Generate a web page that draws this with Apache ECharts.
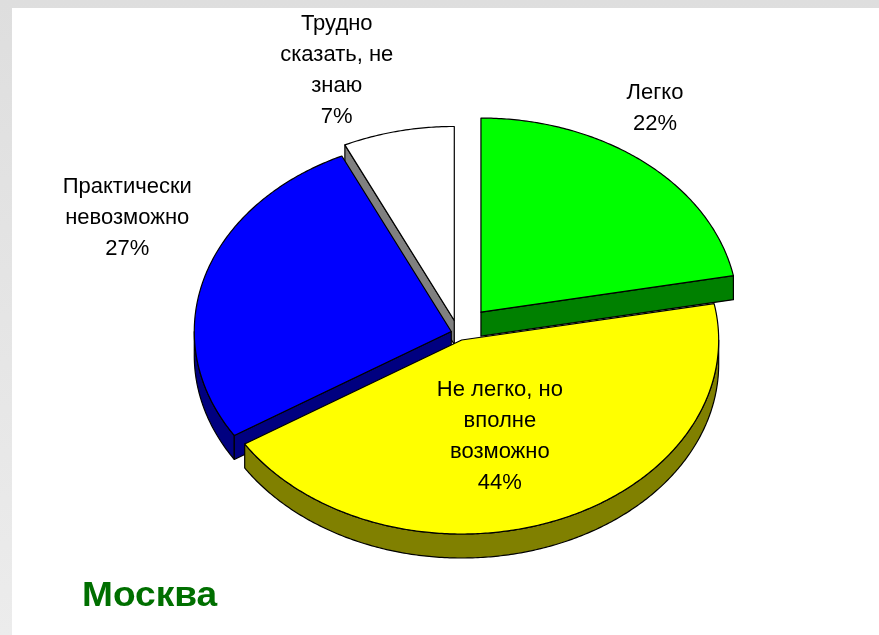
<!DOCTYPE html>
<html>
<head>
<meta charset="utf-8">
<script src="https://cdn.jsdelivr.net/npm/echarts@6/dist/echarts.min.js"></script>
<style>
    html, body { margin: 0; padding: 0; background: #e2e2e2; }
    #chart { width: 879px; height: 635px; }
</style>
</head>
<body>
<div id="chart"></div>
<script>
// данные
const categories = ['Легко', 'Не легко, но\nвполне\nвозможно', 'Практически\nневозможно', 'Трудно\nсказать, не\nзнаю']
const values = [22, 44, 27, 7]
const topColors = ['#00ff00', '#ffff00', '#0000ff', '#ffffff']
const sideColors = ['#008000', '#808000', '#000080', '#808080']

const chart = echarts.init(document.getElementById('chart'))

// геометрия "3D" пирога
const cx = 458, cy = 333
const rx = 257, ry = 194
const depth = 24
const explode = [36, 10, 7, 17]          // вынос каждого сектора, px
const labelR = [1.25, 0.52, 1.39, 1.37]  // радиус подписи (доля радиуса)
const labelShift = [-6.8, 5, 8.7, -6.9]  // сдвиг угла подписи, градусы

const total = values.reduce((a, b) => a + b, 0)
const starts = []
let acc = 0
values.forEach(v => { starts.push(acc / total * Math.PI * 2); acc += v })

function rim(v, t, dy) {
    return [v[0] + rx * Math.sin(t), v[1] - ry * Math.cos(t) + (dy || 0)]
}
function arc(v, t0, t1, dy) {
    const pts = []
    const n = Math.max(2, Math.ceil((t1 - t0) / 0.01))
    for (let i = 0; i <= n; i++) pts.push(rim(v, t0 + (t1 - t0) * i / n, dy))
    return pts
}

function renderItem(params, api) {
    const i = params.dataIndex
    const t0 = starts[i]
    const t1 = t0 + api.value(1) / total * Math.PI * 2
    const mid = (t0 + t1) / 2
    const v = [cx + explode[i] * Math.sin(mid), cy - explode[i] * ry / rx * Math.cos(mid)]
    const order = Math.round((1 - Math.cos(mid)) * 10) * 10
    const line = { stroke: '#000', lineWidth: 1.2, lineJoin: 'round' }
    const children = []

    // внешняя боковая стенка (видна только снизу)
    const a0 = Math.max(t0, Math.PI / 2), a1 = Math.min(t1, Math.PI * 1.5)
    if (a1 > a0) {
        const pts = arc(v, a0, a1, 0).concat(arc(v, a0, a1, depth).reverse())
        children.push({ type: 'polygon', z2: order, shape: { points: pts },
            style: Object.assign({ fill: sideColors[i] }, line) })
    }
    // срезы
    if (Math.sin(t0) < -0.01) {
        const p = rim(v, t0)
        children.push({ type: 'polygon', z2: order + 1,
            shape: { points: [v, p, [p[0], p[1] + depth], [v[0], v[1] + depth]] },
            style: Object.assign({ fill: sideColors[i] }, line) })
    }
    if (Math.sin(t1) > 0.01) {
        const p = rim(v, t1)
        children.push({ type: 'polygon', z2: order + 1,
            shape: { points: [v, p, [p[0], p[1] + depth], [v[0], v[1] + depth]] },
            style: Object.assign({ fill: sideColors[i] }, line) })
    }
    // верхняя грань
    children.push({ type: 'polygon', z2: order + 2,
        shape: { points: [v].concat(arc(v, t0, t1, 0)) },
        style: Object.assign({ fill: topColors[i] }, line) })
    // подпись
    const la = mid + labelShift[i] * Math.PI / 180
    const lp = [v[0] + labelR[i] * rx * Math.sin(la), v[1] - labelR[i] * ry * Math.cos(la)]
    children.push({ type: 'text', z2: 500, x: lp[0], y: lp[1],
        style: {
            text: categories[i] + '\n' + api.value(1) + '%',
            fill: '#000', font: '22px "Liberation Sans", Arial, sans-serif',
            lineHeight: 31, align: 'center', verticalAlign: 'middle'
        } })
    return { type: 'group', children: children }
}

chart.setOption({
    backgroundColor: {
        type: 'linear', x: 0, y: 0, x2: 0, y2: 1,
        colorStops: [{ offset: 0, color: '#dedede' }, { offset: 1, color: '#ececec' }]
    },
    animation: false,
    graphic: [{
        type: 'rect', z: -1,
        shape: { x: 12, y: 8, width: 867, height: 627 },
        style: { fill: '#ffffff' }
    }, {
        type: 'text', x: 82, y: 579, scaleX: 1.06,
        style: {
            text: 'Москва', fill: '#006f00',
            font: 'bold 35px "Liberation Sans", Arial, sans-serif'
        }
    }],
    series: [{
        type: 'custom',
        coordinateSystem: 'none',
        renderItem: renderItem,
        data: values.map((v, i) => [i, v])
    }]
})

window.addEventListener('resize', () => {
    chart.resize()
})
</script>
</body>
</html>
